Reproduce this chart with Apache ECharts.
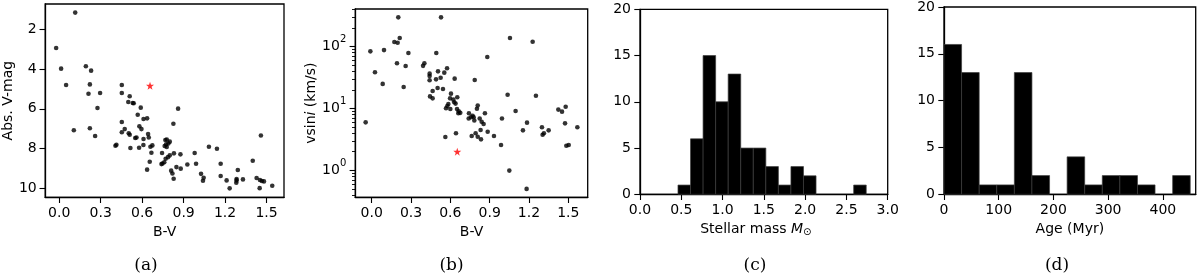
<!DOCTYPE html>
<html><head><meta charset="utf-8">
<script src="https://cdn.jsdelivr.net/npm/echarts@6/dist/echarts.min.js"></script>
<style>html,body{margin:0;padding:0;background:#fff}#c{width:1200px;height:279px}</style>
</head><body><div id="c"></div>
<script>
// Panel (a): B-V vs absolute V magnitude
const bvA = [0.116,-0.022,0.014,0.05,0.106,0.193,0.231,0.222,0.212,0.296,0.277,0.222,0.26,0.453,0.453,0.51,0.50,0.532,0.539,0.59,0.568,0.61,0.636,0.58,0.595,0.453,0.453,0.474,0.503,0.51,0.559,0.55,0.407,0.414,0.515,0.578,0.609,0.61,0.643,0.648,0.66,0.674,0.667,0.655,0.636,0.744,0.763,0.768,0.778,0.773,0.79,0.80,0.778,0.80,0.787,0.77,0.747,0.74,0.76,0.81,0.819,0.828,0.826,0.86,0.83,0.848,0.877,0.879,0.927,0.98,0.99,1.083,1.141,1.026,1.045,1.04,1.168,1.168,1.211,1.233,1.281,1.283,1.283,1.292,1.329,1.40,1.428,1.459,1.452,1.466,1.481,1.45,1.541];
const vmagA = [1.16,2.94,3.98,4.80,7.08,3.86,4.08,4.77,5.24,5.20,5.96,6.98,7.37,4.80,5.20,5.37,5.66,5.71,5.72,5.94,6.30,6.51,6.48,6.88,7.02,6.66,7.18,7.02,7.23,7.30,7.44,7.47,7.86,7.81,7.97,7.96,7.82,7.52,7.27,7.44,7.91,7.84,8.21,8.66,9.06,8.22,7.87,7.57,7.54,7.79,7.74,7.65,7.92,8.34,8.43,8.51,8.75,8.78,8.69,9.11,9.25,9.52,6.75,5.99,8.24,8.93,8.29,9.01,8.80,8.22,8.76,7.91,8.01,9.27,9.47,9.62,8.76,9.38,9.60,10.00,9.72,9.60,9.53,9.08,9.55,8.61,9.48,7.34,9.58,9.63,9.65,9.99,9.87];
const sunA = [0.657, 4.84];
// Panel (b): B-V vs vsini (km/s)
const bvB = [0.203,0.529,0.173,0.198,0.214,-0.01,0.094,0.28,0.493,0.025,0.084,0.193,0.259,0.244,-0.046,0.392,0.402,0.442,0.442,0.442,0.491,0.506,0.526,0.554,0.575,0.503,0.544,0.465,0.445,0.465,0.633,0.605,0.598,0.623,0.653,0.63,0.64,0.585,0.577,0.567,0.60,0.651,0.664,0.676,0.661,0.562,0.643,0.786,0.882,0.742,0.74,0.757,0.77,0.778,0.783,0.803,0.809,0.824,0.839,0.854,0.864,0.763,0.793,0.809,0.831,0.834,0.885,0.933,0.987,0.994,1.037,1.055,1.098,1.05,1.154,1.185,1.182,1.228,1.253,1.299,1.304,1.314,1.35,1.424,1.452,1.48,1.475,1.485,1.503,1.569];
const vsiniB = [298,298,119,116,138,84,88,79,79,38.5,25,54,48.7,22.3,5.97,49,54,36.6,33.6,28.6,29.6,39.9,31.5,38,44.7,21.5,20.7,19.2,15.7,14.6,30.4,17.4,14.6,13.9,15.2,12.6,12,11.8,11,10.1,9.8,9.8,9.0,8.5,8.4,3.46,3.97,28.9,68,8.4,6.9,7.2,7.6,7.2,6.4,9.9,11.2,6.9,6.1,5.6,8.4,3.6,3.97,3.5,4.49,3.17,4.2,3.59,2.57,6.9,16.7,138,9.1,0.99,4.43,5.9,0.50,120,16.1,4.96,3.77,3.97,4.43,9.6,8.9,10.7,5.75,2.5,2.57,4.96];
const sunB = [0.653, 2.0];
// Panel (c): stellar mass histogram
const massEdges = [0.46,0.612,0.764,0.916,1.068,1.22,1.372,1.524,1.676,1.828,1.98,2.132,2.284,2.436,2.588,2.74];
const massCounts = [1,6,15,10,13,5,5,3,1,3,2,0,0,0,1];
// Panel (d): age histogram
const ageEdges = [0,32.1,64.3,96.4,128.6,160.7,192.9,225,257.1,289.3,321.4,353.6,385.7,417.9,450];
const ageCounts = [16,13,1,1,13,2,0,4,1,2,2,1,0,2];
// tick labels
const bvTicks = [0.0,0.3,0.6,0.9,1.2,1.5];
const vmagTicks = [2,4,6,8,10];
const vsiniExp = [0,1,2];
const vsiniMinor = [0.4,0.5,0.6,0.7,0.8,0.9,2,3,4,5,6,7,8,9,20,30,40,50,60,70,80,90,200,300,400];
const captions = ['(a)','(b)','(c)','(d)'];

const FONT = 'DejaVu Sans';
const FS = 14;
const starPath = 'path://M50,0 L61.8,35.1 L97.6,34.5 L68.5,56.9 L79.4,90.5 L50,69.1 L20.6,90.5 L31.5,56.9 L2.4,34.5 L38.2,35.1 Z';

const lineSt = {show:true, onZero:false, lineStyle:{color:'#000', width:1.3}};
const tickSt = {show:true, inside:false, length:5.7, lineStyle:{color:'#000', width:1.1}};
const lblSt = {color:'#000', fontFamily:FONT, fontSize:FS};
const nameSt = {color:'#000', fontFamily:FONT, fontSize:FS};

const grids = [
  {left:45, top:4, width:239, height:193.3},
  {left:355.3, top:9, width:232.4, height:188.3},
  {left:640, top:9.3, width:247.7, height:185},
  {left:944, top:6.7, width:251.7, height:187.6}
].map(g => Object.assign({show:true, borderColor:'#000', borderWidth:1.3, backgroundColor:'transparent', containLabel:false}, g));

function bvAxis(gi, min, max) {
  return {type:'value', gridIndex:gi, min, max, name:'B-V', nameLocation:'middle', nameGap:24,
    nameTextStyle:nameSt, splitLine:{show:false}, axisLine:lineSt,
    axisTick:Object.assign({customValues:bvTicks}, tickSt),
    axisLabel:Object.assign({customValues:bvTicks, margin:9, formatter:v=>v.toFixed(1)}, lblSt)};
}

function histSeries(edges, counts, idx) {
  const data = counts.map((c,i)=>[edges[i], edges[i+1], c]);
  return {type:'custom', xAxisIndex:idx, yAxisIndex:idx, data, encode:{x:[0,1], y:2},
    renderItem(params, api){
      const x0 = api.value(0), x1 = api.value(1), c = api.value(2);
      if (!c) return null;
      const p0 = api.coord([x0, c]); const p1 = api.coord([x1, 0]);
      return {type:'rect', shape:{x:p0[0], y:p0[1], width:p1[0]-p0[0], height:p1[1]-p0[1]},
        style:{fill:'#000', stroke:'#3c3c3c', lineWidth:0.7}};
    }};
}

const option = {
  animation:false,
  backgroundColor:'#fff',
  grid: grids,
  xAxis: [
    bvAxis(0, -0.101, 1.626),
    bvAxis(1, -0.125, 1.648),
    {type:'value', gridIndex:2, min:0, max:3, interval:0.5,
      name:'{n|Stellar mass }{it|M}{sub|⊙}', nameLocation:'middle', nameGap:24,
      nameTextStyle:Object.assign({padding:[0,16,0,0], rich:{n:{fontFamily:FONT,fontSize:FS,color:'#000'}, it:{fontFamily:FONT,fontSize:FS,fontStyle:'italic',color:'#000'}, sub:{fontFamily:FONT,fontSize:10,color:'#000',verticalAlign:'bottom', padding:[6,0,0,0]}}}, nameSt),
      splitLine:{show:false}, axisLine:lineSt, axisTick:tickSt,
      axisLabel:Object.assign({margin:9, formatter:v=>v.toFixed(1)}, lblSt)},
    {type:'value', gridIndex:3, min:0, max:460, interval:100,
      name:'Age (Myr)', nameLocation:'middle', nameGap:24, nameTextStyle:nameSt,
      splitLine:{show:false}, axisLine:lineSt, axisTick:tickSt,
      axisLabel:Object.assign({margin:9, showMaxLabel:false}, lblSt)}
  ],
  yAxis: [
    {type:'value', gridIndex:0, inverse:true, min:0.727, max:10.45,
      name:'Abs. V-mag', nameLocation:'middle', nameGap:30, nameTextStyle:nameSt,
      splitLine:{show:false}, axisLine:lineSt,
      axisTick:Object.assign({customValues:vmagTicks}, tickSt),
      axisLabel:Object.assign({customValues:vmagTicks, margin:8.5}, lblSt)},
    {type:'value', gridIndex:1, position:'left', min:Math.log10(0.366), max:Math.log10(407),
      name:'{n|vsin}{it|i}{n| (km/s)}', nameLocation:'middle', nameGap:31,
      nameTextStyle:Object.assign({rich:{n:{fontFamily:FONT,fontSize:FS,color:'#000'}, it:{fontFamily:FONT,fontSize:FS,fontStyle:'italic',color:'#000'}}}, nameSt),
      splitLine:{show:false}, axisLine:lineSt,
      axisTick:Object.assign({customValues:vsiniExp}, tickSt),
      axisLabel:Object.assign({customValues:vsiniExp, margin:9, formatter:v=>'{b|10}{s|'+Math.round(v)+'}',
        rich:{b:{fontFamily:FONT,fontSize:FS,color:'#000',lineHeight:24,verticalAlign:'middle'}, s:{fontFamily:FONT,fontSize:10,color:'#000',verticalAlign:'top',lineHeight:12}}}, lblSt)},
    {type:'value', gridIndex:2, min:0, max:20, interval:5,
      splitLine:{show:false}, axisLine:lineSt, axisTick:tickSt,
      axisLabel:Object.assign({margin:9}, lblSt)},
    {type:'value', gridIndex:3, min:0, max:20, interval:5,
      splitLine:{show:false}, axisLine:lineSt, axisTick:tickSt,
      axisLabel:Object.assign({margin:9}, lblSt)},
    // minor ticks for log axis (b)
    {type:'value', gridIndex:1, position:'left', offset:0, min:Math.log10(0.366), max:Math.log10(407),
      splitLine:{show:false}, axisLine:{show:false, onZero:false},
      axisTick:{show:true, inside:false, length:3.3, lineStyle:{color:'#000', width:0.9}, customValues:vsiniMinor.map(v=>Math.log10(v))},
      axisLabel:{show:false}}
  ],
  series: [
    {type:'scatter', xAxisIndex:0, yAxisIndex:0, symbolSize:4.6, itemStyle:{color:'#000'},
      data: bvA.map((x,i)=>[x, vmagA[i]])},
    {type:'scatter', xAxisIndex:0, yAxisIndex:0, symbol:starPath, symbolSize:8, itemStyle:{color:'#ff0000'},
      data:[sunA]},
    {type:'scatter', xAxisIndex:1, yAxisIndex:1, symbolSize:4.6, itemStyle:{color:'#000'},
      data: bvB.map((x,i)=>[x, Math.log10(vsiniB[i])])},
    {type:'scatter', xAxisIndex:1, yAxisIndex:1, symbol:starPath, symbolSize:8, itemStyle:{color:'#ff0000'},
      data:[[sunB[0], Math.log10(sunB[1])]]},
    histSeries(massEdges, massCounts, 2),
    histSeries(ageEdges, ageCounts, 3)
  ],
  graphic: captions.map((t,i)=>({type:'text', x:[146,451.5,755,1057][i], y:266,
    style:{text:t, fill:'#000', font:'17px "DejaVu Serif"', textAlign:'center', textVerticalAlign:'middle'}}))
};
const chart = echarts.init(document.getElementById('c'), null, {renderer:'canvas'});
chart.setOption(option);
</script></body></html>
